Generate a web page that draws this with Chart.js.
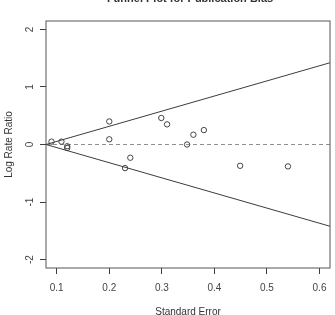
<!DOCTYPE html>
<html>
<head>
<meta charset="utf-8">
<script src="https://cdn.jsdelivr.net/npm/chart.js@4"></script>
<style>
  html, body { margin: 0; padding: 0; background: #fff; }
  #wrap { width: 335px; height: 315px; }
</style>
</head>
<body>
<div id="wrap"><canvas id="funnel" width="335" height="315"></canvas></div>
<script>
// studies: standard error vs log rate ratio
const stdErr = [0.090, 0.109, 0.120, 0.120, 0.200, 0.200, 0.230, 0.240, 0.299, 0.310, 0.348, 0.360, 0.380, 0.449, 0.540]
const logRR  = [0.05, 0.05, -0.03, -0.06, 0.40, 0.09, -0.41, -0.23, 0.46, 0.35, 0.00, 0.17, 0.25, -0.37, -0.38]

// funnel boundaries
const funnelSE = [0.0796, 0.620]
const funnelUpper = [0, 1.42]
const funnelLower = [0, -1.42]

const xTicks = [0.1, 0.2, 0.3, 0.4, 0.5, 0.6]
const yTicks = [-2, -1, 0, 1, 2]

const ink = '#3c3c3c'
const font = 'Liberation Sans, Arial, sans-serif'

const pts = stdErr.map((s, i) => ({ x: s, y: logRR[i] }))
const upper = funnelSE.map((s, i) => ({ x: s, y: funnelUpper[i] }))
const lower = funnelSE.map((s, i) => ({ x: s, y: funnelLower[i] }))
const zero = funnelSE.map(s => ({ x: s, y: 0 }))

const frame = {
    id: 'frame',
    afterDraw(chart) {
        const { ctx, chartArea: a } = chart
        ctx.save()
        ctx.strokeStyle = '#555'
        ctx.lineWidth = 1
        ctx.strokeRect(a.left, a.top, a.right - a.left, a.bottom - a.top)
        ctx.fillStyle = '#333'
        ctx.font = 'bold 11px ' + font
        ctx.textAlign = 'center'
        ctx.textBaseline = 'alphabetic'
        ctx.fillText('Funnel Plot for Publication Bias', (a.left + a.right) / 2 + 2, 2)
        ctx.restore()
    }
}

new Chart(document.getElementById('funnel').getContext('2d'), {
    type: 'scatter',
    data: {
        datasets: [{
            data: pts,
            borderColor: '#444',
            backgroundColor: 'transparent',
            borderWidth: 1,
            pointRadius: 2.7
        }, {
            data: upper,
            showLine: true,
            borderColor: ink,
            borderWidth: 1,
            pointRadius: 0
        }, {
            data: lower,
            showLine: true,
            borderColor: ink,
            borderWidth: 1,
            pointRadius: 0
        }, {
            data: zero,
            showLine: true,
            borderColor: '#909090',
            borderDash: [4, 3],
            borderWidth: 1,
            pointRadius: 0
        }]
    },
    options: {
        responsive: false,
        animation: false,
        layout: { padding: { top: 21, right: 2, left: 0, bottom: 0 } },
        plugins: { legend: { display: false }, tooltip: { enabled: false } },
        scales: {
            x: {
                type: 'linear',
                min: funnelSE[0],
                max: funnelSE[1],
                afterBuildTicks: s => { s.ticks = xTicks.map(v => ({ value: v })) },
                afterFit: s => { s.height = 47 },
                grid: { drawOnChartArea: false, tickLength: 6, color: ink },
                border: { display: false },
                ticks: { color: '#444', font: { family: font, size: 10 }, padding: 8, maxRotation: 0 },
                title: { display: true, text: 'Standard Error', color: '#333', font: { family: font, size: 10 }, padding: { bottom: -3 } }
            },
            y: {
                type: 'linear',
                min: -2.145,
                max: 2.145,
                afterBuildTicks: s => { s.ticks = yTicks.map(v => ({ value: v })) },
                afterFit: s => { s.width = 46 },
                grid: { drawOnChartArea: false, tickLength: 6, color: ink },
                border: { display: false },
                ticks: { color: '#444', font: { family: font, size: 10 }, padding: 5, minRotation: 90, maxRotation: 90, crossAlign: 'center' },
                title: { display: true, text: 'Log Rate Ratio', color: '#333', font: { family: font, size: 10 }, padding: { top: 3 } }
            }
        }
    },
    plugins: [frame]
})
</script>
</body>
</html>
